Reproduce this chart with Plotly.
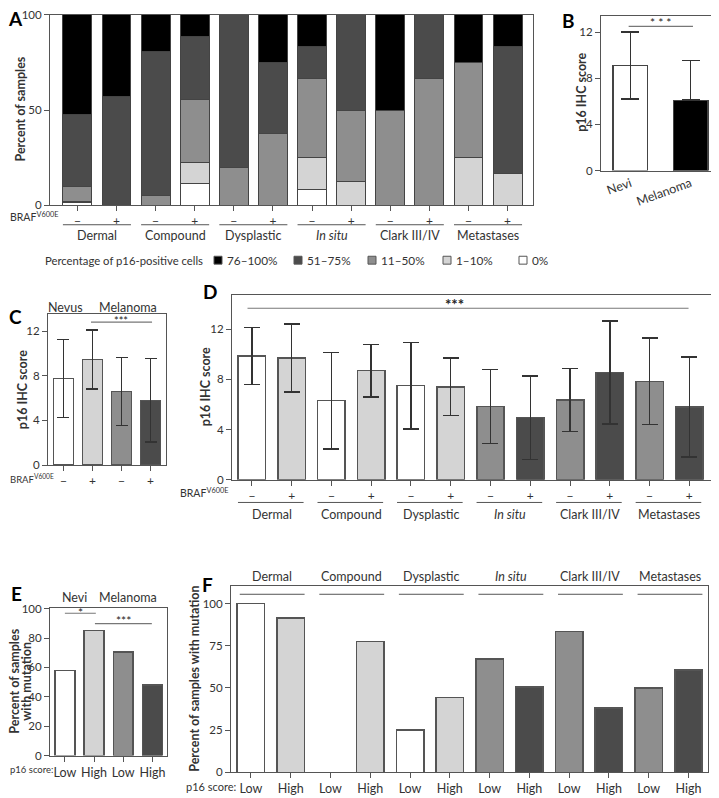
import plotly.graph_objects as go

W, H = 719, 798
OFF = 8  # page body margin in the browser
FW, FH = W - OFF, H - OFF
def px(x): return (x - OFF) / FW
def py(y): return 1 - (y - OFF) / FH

FONT = "Lato"
TXT = "#333333"
LINE = "#555555"
C_BLACK, C_DARK, C_MID, C_LIGHT, C_WHITE = "#000000", "#4b4b4b", "#8e8e8e", "#d4d4d4", "#ffffff"

# ---------------- data ----------------
groups = ["Dermal", "Compound", "Dysplastic", "<i>In situ</i>", "Clark III/IV", "Metastases"]
braf_labels = ["−", "+"] * 6
score_labels = ["Low", "High"] * 6

# Panel A: percent of samples by p16-positive cell category (stacked)
A_p0 = [1.2, 0, 0, 11.1, 0, 0, 8.33, 0, 0, 0, 0, 0]
A_p1_10 = [0.8, 0, 0, 11.1, 0, 0, 16.67, 12.5, 0, 0, 25, 16.67]
A_p11_50 = [8, 0, 4.8, 33.3, 20, 37.5, 41.67, 37.5, 50, 66.67, 50, 0]
A_p51_75 = [37.7, 57.1, 76, 33.3, 80, 37.5, 16.67, 50, 0, 33.33, 0, 66.67]
A_p76_100 = [52.3, 42.9, 19.2, 11.2, 0, 25, 16.66, 0, 50, 0, 25, 16.66]
A_series = ["0%", "1–10%", "11–50%", "51–75%", "76–100%"]

# Panel B
B_cats = ["Nevi", "Melanoma"]
B_mean = [9.1, 6.1]
B_err_up = [2.9, 3.45]
B_err_down = [2.9, 0]

# Panel C
C_cats = ["−", "+", "−", "+"]
C_mean = [7.75, 9.45, 6.6, 5.8]
C_err = [3.5, 2.65, 3.05, 3.75]

# Panel D
D_mean = [9.85, 9.7, 6.3, 8.7, 7.5, 7.4, 5.85, 4.95, 6.35, 8.55, 7.85, 5.8]
D_err = [2.27, 2.72, 3.83, 2.1, 3.44, 2.29, 2.95, 3.32, 2.5, 4.1, 3.45, 4.0]

# Panel E
E_cats = ["Low", "High", "Low", "High"]
E_vals = [58, 85.2, 70.7, 47.9]

# Panel F
F_vals = [100, 91.3, 0, 77.5, 25, 44.3, 67, 50.5, 83.5, 38, 50, 60.5]

pair_cols = [C_WHITE, C_LIGHT, C_WHITE, C_LIGHT, C_WHITE, C_LIGHT, C_MID, C_DARK, C_MID, C_DARK, C_MID, C_DARK]
four_cols = [C_WHITE, C_LIGHT, C_MID, C_DARK]

fig = go.Figure()
x12 = list(range(12))
x4 = list(range(4))

# A stacked bars
for name, vals, col in zip(A_series, [A_p0, A_p1_10, A_p11_50, A_p51_75, A_p76_100],
                           [C_WHITE, C_LIGHT, C_MID, C_DARK, C_BLACK]):
    fig.add_trace(go.Bar(x=x12, y=vals, name=name, width=0.74,
                         marker=dict(color=col, line=dict(color="#444", width=1)),
                         xaxis="x", yaxis="y"))

# B
fig.add_trace(go.Bar(x=[0, 1], y=B_mean, width=0.58, name="B",
                     marker=dict(color=[C_WHITE, C_BLACK], line=dict(color="#444", width=1.2)),
                     error_y=dict(type="data", symmetric=False, array=B_err_up, arrayminus=B_err_down,
                                  color="#333", thickness=1.5, width=9),
                     xaxis="x2", yaxis="y2"))
# C
fig.add_trace(go.Bar(x=x4, y=C_mean, width=0.69, name="C",
                     marker=dict(color=four_cols, line=dict(color="#555", width=1.5)),
                     error_y=dict(type="data", array=C_err, color="#333", thickness=1.5, width=6),
                     xaxis="x3", yaxis="y3"))
# D
fig.add_trace(go.Bar(x=x12, y=D_mean, width=0.69, name="D",
                     marker=dict(color=pair_cols, line=dict(color="#555", width=1.5)),
                     error_y=dict(type="data", array=D_err, color="#333", thickness=1.5, width=8),
                     xaxis="x4", yaxis="y4"))
# E
fig.add_trace(go.Bar(x=x4, y=E_vals, width=0.68, name="E",
                     marker=dict(color=four_cols, line=dict(color="#555", width=1.5)),
                     xaxis="x5", yaxis="y5"))
# F
fig.add_trace(go.Bar(x=x12, y=F_vals, width=0.69, name="F",
                     marker=dict(color=pair_cols, line=dict(color="#555", width=1.5)),
                     xaxis="x6", yaxis="y6"))


def yax(top, bottom, rng, tickvals, anchor):
    return dict(domain=[py(bottom), py(top)], range=rng, tickvals=tickvals,
                showline=True, mirror=True, linecolor=LINE, linewidth=1,
                ticks="outside", ticklen=5, tickcolor=LINE, tickwidth=1,
                tickfont=dict(size=11.5, color=TXT, family=FONT), showgrid=False, zeroline=False,
                anchor=anchor, fixedrange=True)


def xax(left, right, rng, tickvals, ticktext, anchor, ticks="outside", angle=0, size=12):
    return dict(domain=[px(left), px(right)], range=rng, tickvals=tickvals, ticktext=ticktext,
                showline=True, mirror=True, linecolor=LINE, linewidth=1,
                ticks=ticks, ticklen=5, tickcolor=LINE, tickwidth=1, tickangle=angle,
                tickfont=dict(size=size, color=TXT, family=FONT), showgrid=False, zeroline=False,
                anchor=anchor, fixedrange=True)


fig.update_layout(
    width=FW, height=FH, margin=dict(l=0, r=0, t=0, b=0),
    paper_bgcolor="white", plot_bgcolor="white", showlegend=False, barmode="stack",
    font=dict(family=FONT, color=TXT, size=11),
    xaxis=xax(50, 533, [-0.7, 11.65], x12, braf_labels, "y"),
    yaxis=yax(9, 202, [0, 100], [0, 50, 100], "x"),
    xaxis2=xax(601, 717, [-0.49, 1.44], [0, 1], B_cats, "y2", ticks="", angle=-20, size=12.5),
    yaxis2=yax(10, 167, [0, 13.4], [0, 4, 8, 12], "x2"),
    xaxis3=xax(48, 166, [-0.53, 3.53], x4, C_cats, "y3"),
    yaxis3=yax(313, 466, [0, 13.5], [0, 4, 8, 12], "x3"),
    xaxis4=xax(232, 712, [-0.5, 11.57], x12, braf_labels, "y4"),
    yaxis4=yax(293, 481, [0, 14.75], [0, 4, 8, 12], "x4"),
    xaxis5=xax(50, 167, [-0.51, 3.5], x4, E_cats, "y5", size=12.5),
    yaxis5=yax(611, 761, [0, 100.6], [0, 20, 40, 60, 80, 100], "x5"),
    xaxis6=xax(231, 708, [-0.5, 11.49], x12, score_labels, "y6", size=12.5),
    yaxis6=yax(589, 778, [0, 110.3], [0, 25, 50, 75, 100], "x6"),
)

ann = []
shapes = []

def ptext(x, y, text, size=12, anchor="center", bold=False, color=TXT, angle=0, vanchor="middle"):
    ann.append(dict(x=px(x), y=py(y), xref="paper", yref="paper", text=f"<b>{text}</b>" if bold else text,
                    showarrow=False, xanchor=anchor, yanchor=vanchor, textangle=angle,
                    font=dict(size=size, color=color, family=FONT)))

# panel letters
for L, x, y in [("A", 15, 13), ("B", 568, 15), ("C", 15, 315), ("D", 210, 290), ("E", 16, 596), ("F", 207, 587)]:
    ptext(x, y, L, size=19, bold=True, color="#000")

# y titles
ptext(21, 105, "Percent of samples", size=12.5, bold=True, angle=-90)
ptext(582, 88, "p16 IHC score", size=12.5, bold=True, angle=-90)
ptext(22, 390, "p16 IHC score", size=12.5, bold=True, angle=-90)
ptext(205, 387, "p16 IHC score", size=12.5, bold=True, angle=-90)
ptext(15, 686, "Percent of samples", size=12.5, bold=True, angle=-90)
ptext(27, 686, "with mutation", size=12.5, bold=True, angle=-90)
ptext(195, 683, "Percent of samples with mutation", size=12.5, bold=True, angle=-90)

# BRAF labels
ptext(60, 214, "BRAF<sup>V600E</sup>", size=10.5, anchor="right")
ptext(8, 480, "BRAF<sup>V600E</sup>", size=9.5, anchor="left")
ptext(230, 494, "BRAF<sup>V600E</sup>", size=10.5, anchor="right")
ptext(8, 775, "p16 score:", size=9.5, anchor="left")
ptext(238, 792, "p16 score:", size=11, anchor="right")

# group headings
ptext(66, 306, "Nevus", size=12.5)
ptext(128, 306, "Melanoma", size=12.5)
ptext(74, 600, "Nevi", size=12.5)
ptext(128, 600, "Melanoma", size=12.5)

# group labels + lines A, D, F
for k, g in enumerate(groups):
    ann.append(dict(x=2 * k + 0.5, y=py(233), xref="x", yref="paper", text=g, showarrow=False,
                    xanchor="center", yanchor="middle", font=dict(size=12.5, color=TXT, family=FONT)))
    shapes.append(dict(type="line", xref="x", yref="paper", x0=2 * k - 0.37, x1=2 * k + 1.37,
                       y0=py(222), y1=py(222), line=dict(color=LINE, width=1)))
    ann.append(dict(x=2 * k + 0.5, y=py(516), xref="x4", yref="paper", text=g, showarrow=False,
                    xanchor="center", yanchor="middle", font=dict(size=12.5, color=TXT, family=FONT)))
    shapes.append(dict(type="line", xref="x4", yref="paper", x0=2 * k - 0.35, x1=2 * k + 1.3,
                       y0=py(504), y1=py(504), line=dict(color=LINE, width=1)))
    ann.append(dict(x=2 * k + 0.53, y=py(579), xref="x6", yref="paper", text=g, showarrow=False,
                    xanchor="center", yanchor="middle", font=dict(size=12.5, color=TXT, family=FONT)))
    shapes.append(dict(type="line", xref="x6", yref="y6", x0=2 * k - 0.28, x1=2 * k + 1.35,
                       y0=105.5, y1=105.5, line=dict(color=LINE, width=1)))

# legend of panel A
ptext(43, 258, "Percentage of p16-positive cells", size=11.3, anchor="left")
for sx, name, col in [(214, "76–100%", C_BLACK), (294, "51–75%", C_DARK), (368, "11–50%", C_MID),
                      (443, "1–10%", C_LIGHT), (519, "0%", C_WHITE)]:
    shapes.append(dict(type="rect", xref="paper", yref="paper", x0=px(sx), x1=px(sx + 8),
                       y0=py(262), y1=py(254), fillcolor=col, line=dict(color="#555", width=1)))
    ptext(sx + 11, 258, name, size=11.8, anchor="left")

# significance markers
def sig(xr, yr, x0, x1, y, stars, size=12, sx=None, bold=False, shift=3):
    shapes.append(dict(type="line", xref=xr, yref=yr, x0=x0, x1=x1, y0=y, y1=y,
                       line=dict(color="#777", width=1.2)))
    ann.append(dict(x=(x0 + x1) / 2 if sx is None else sx, y=y, xref=xr, yref=yr,
                    text=f"<b>{stars}</b>" if bold else stars, showarrow=False, yanchor="middle",
                    xanchor="center", yshift=shift, font=dict(size=size, color="#222", family=FONT)))

sig("x2", "y2", -0.03, 1.04, 12.5, "* * *", size=12, shift=3.5)
sig("x3", "y3", 0.95, 3.05, 12.8, "***", size=11, sx=1.98, shift=2)
sig("x4", "y4", -0.11, 10.98, 13.67, "***", size=15, sx=5.1, bold=True, shift=4)
sig("x5", "y5", 0.0, 1.06, 96.9, "*", size=12, shift=1)
sig("x5", "y5", 1.03, 2.98, 89.9, "***", size=12, shift=3)

fig.update_layout(annotations=ann, shapes=shapes)
fig.write_html("out.html")
